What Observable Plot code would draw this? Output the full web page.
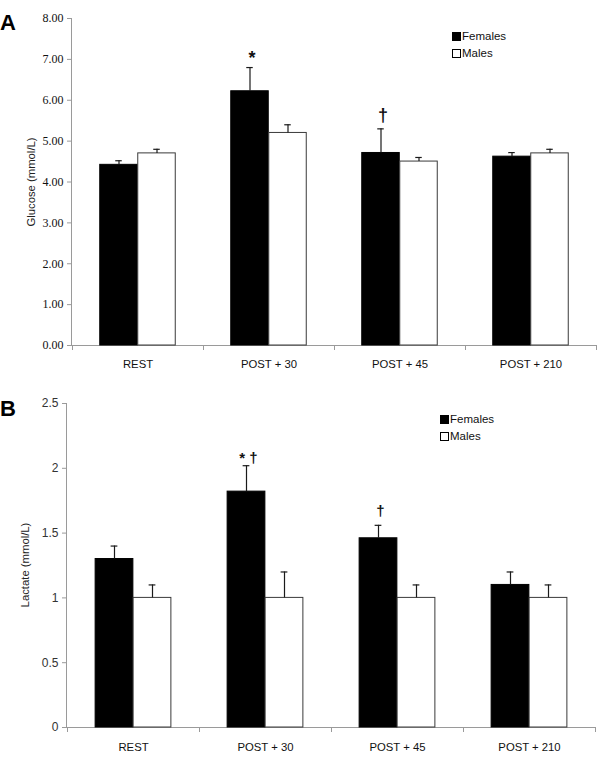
<!DOCTYPE html>
<html>
<head>
<meta charset="utf-8">
<script src="https://cdn.jsdelivr.net/npm/d3@7"></script>
<script src="https://cdn.jsdelivr.net/npm/@observablehq/plot@0.6"></script>
<style>
  html, body { margin: 0; padding: 0; background: #fff; }
  #wrap { position: relative; width: 600px; height: 773px; background: #fff; font-family: "Liberation Sans", Arial, sans-serif; }
  .panel { position: absolute; left: 0; }
  .letter { position: absolute; font-weight: bold; font-size: 22px; font-family: "Liberation Sans", Arial, sans-serif; color: #000; line-height: 1; }
  .legend { position: absolute; font-size: 11.5px; color: #111; line-height: 1; }
  .legend .row { position: relative; height: 16.5px; white-space: nowrap; }
  .legend .sw { position: absolute; left: 0; top: 0; width: 7px; height: 7px; border: 1px solid #000; box-sizing: content-box; }
  .legend .lab { position: absolute; left: 10px; top: -1px; }
  .ylab { position: absolute; width: 200px; height: 14px; line-height: 14px; text-align: center; font-size: 11.3px; color: #222; transform: translate(-50%, -50%) rotate(-90deg); white-space: nowrap; }
</style>
</head>
<body>
<div id="wrap">
  <div class="panel" id="A" style="top:0px"></div>
  <div class="panel" id="B" style="top:380px"></div>
  <div class="letter" style="left:0px; top:12px;">A</div>
  <div class="letter" style="left:0px; top:398px;">B</div>
  <div class="ylab" id="ylabA" style="left:31px; top:182px;"></div>
  <div class="ylab" id="ylabB" style="left:25px; top:565px;"></div>
  <div class="legend" style="left:452px; top:32px;">
    <div class="row"><span class="sw" style="background:#000"></span><span class="lab">Females</span></div>
    <div class="row"><span class="sw" style="background:#fff"></span><span class="lab">Males</span></div>
  </div>
  <div class="legend" style="left:440px; top:415px;">
    <div class="row"><span class="sw" style="background:#000"></span><span class="lab">Females</span></div>
    <div class="row"><span class="sw" style="background:#fff"></span><span class="lab">Males</span></div>
  </div>
</div>
<script>
// ---------------- data ----------------
const categories = ["REST", "POST + 30", "POST + 45", "POST + 210"];
const groups = ["Females", "Males"];

const glucoseFemales    = [4.42, 6.22, 4.71, 4.62];
const glucoseFemalesErr = [0.10, 0.58, 0.59, 0.10];
const glucoseMales      = [4.70, 5.20, 4.50, 4.70];
const glucoseMalesErr   = [0.10, 0.20, 0.10, 0.10];
const glucoseTicks      = [0, 1, 2, 3, 4, 5, 6, 7, 8];
const glucoseLabel      = "Glucose (mmol/L)";
const glucoseNotes      = [{time: "POST + 30", text: "*"}, {time: "POST + 45", text: "†"}];

const lactateFemales    = [1.30, 1.82, 1.46, 1.10];
const lactateFemalesErr = [0.10, 0.20, 0.10, 0.10];
const lactateMales      = [1.00, 1.00, 1.00, 1.00];
const lactateMalesErr   = [0.10, 0.20, 0.10, 0.10];
const lactateTicks      = [0, 0.5, 1, 1.5, 2, 2.5];
const lactateLabel      = "Lactate (mmol/L)";
const lactateNotes      = [{time: "POST + 30", text: "* †"}, {time: "POST + 45", text: "†"}];

// ---------------- helpers ----------------
function rows(vals, errs) {
  return categories.map((c, i) => ({time: c, value: vals[i], hi: vals[i] + errs[i]}));
}

function axisFrame(color) {
  return (index, scales, values, dims) => {
    const x = scales.x, y = scales.y;
    const left = dims.marginLeft, right = dims.width - dims.marginRight;
    const bottom = y(0);
    const top = dims.marginTop;
    const bw = x.bandwidth ? x.bandwidth() : (right - left) / categories.length;
    const g = d3.create("svg:g").attr("stroke", color).attr("fill", "none").attr("stroke-width", 1);
    g.append("line").attr("x1", left + 0.5).attr("x2", left + 0.5).attr("y1", top).attr("y2", bottom);
    g.append("line").attr("x1", left).attr("x2", right).attr("y1", bottom + 0.5).attr("y2", bottom + 0.5);
    const edges = categories.map(c => x(c)).concat([x(categories[categories.length - 1]) + bw]);
    for (const e of edges) {
      g.append("line").attr("x1", e + 0.5).attr("x2", e + 0.5).attr("y1", bottom).attr("y2", bottom + 5);
    }
    return g.node();
  };
}

function panel({el, fem, male, ticks, fmt, notes, noteDy, noteSize, height, mt, mb, ml, mr, xPad, tickFont, tickFill}) {
  const width = 600;
  const bw = (width - ml - mr) / categories.length;
  const half = bw / 2;
  const W = 38;      // bar width in px
  const cap = 7;     // error cap width
  const ink = "#1a1a1a";
  const barSet = (data, side, fill, stroke) => [
    Plot.barY(data, {
      x: "time", y: "value", fill, stroke, strokeWidth: 1,
      insetLeft: side < 0 ? half - W : half,
      insetRight: side < 0 ? half : half - W
    }),
    Plot.ruleX(data, {x: "time", y1: "value", y2: "hi", dx: side * W / 2, stroke: ink, strokeWidth: 1.2}),
    Plot.tickY(data, {
      x: "time", y: "hi", stroke: ink, strokeWidth: 1.2,
      insetLeft: half + side * W / 2 - cap / 2,
      insetRight: half - side * W / 2 - cap / 2
    })
  ];
  const noteRows = notes.map(n => ({...n, hi: fem.find(r => r.time === n.time).hi}));
  const noteMarks = noteRows.map((n, i) =>
    Plot.text([n], {x: "time", y: "hi", text: "text", dx: -W / 2 + 2, dy: noteDy[i],
      fontSize: noteSize, fontWeight: "bold", fill: "#111", lineAnchor: "bottom"}));
  const chart = Plot.plot({
    width, height,
    marginTop: mt, marginBottom: mb, marginLeft: ml, marginRight: mr,
    style: {fontFamily: "'Liberation Sans', Arial, sans-serif", fontSize: "11.3px", color: "#111", background: "transparent", overflow: "visible"},
    x: {domain: categories, padding: 0, tickSize: 0, tickPadding: xPad, label: null},
    y: {domain: [ticks[0], ticks[ticks.length - 1]], ticks, tickFormat: fmt, tickSize: 4, tickPadding: 4, label: null},
    marks: [
      axisFrame("#9a9a9a"),
      ...barSet(fem, -1, "#000", "#000"),
      ...barSet(male, 1, "#fff", "#3a3a3a"),
      ...noteMarks
    ]
  });
  // style the y tick labels and tick marks
  const sel = d3.select(chart);
  sel.selectAll('g[aria-label="y-axis tick label"] text, g[aria-label="y-axis tick label"]')
    .attr("font-family", tickFont).attr("font-size", 12).attr("fill", tickFill);
  sel.selectAll('g[aria-label="y-axis tick"]').attr("stroke", "#9a9a9a");
  sel.selectAll('g[aria-label="y-axis tick"] path').attr("stroke", "#9a9a9a");
  document.getElementById(el).appendChild(chart);
}

document.getElementById("ylabA").textContent = glucoseLabel;
document.getElementById("ylabB").textContent = lactateLabel;

panel({
  el: "A",
  fem: rows(glucoseFemales, glucoseFemalesErr),
  male: rows(glucoseMales, glucoseMalesErr),
  ticks: glucoseTicks, fmt: d => d.toFixed(2),
  notes: glucoseNotes, noteDy: [-4, -8], noteSize: 18,
  height: 375, mt: 18, mb: 30, ml: 71, mr: 3, xPad: 14,
  tickFont: "'Liberation Serif', 'Times New Roman', serif", tickFill: "#111"
});

panel({
  el: "B",
  fem: rows(lactateFemales, lactateFemalesErr),
  male: rows(lactateMales, lactateMalesErr),
  ticks: lactateTicks, fmt: d => String(d),
  notes: lactateNotes, noteDy: [-3, -9], noteSize: 15,
  height: 393, mt: 23, mb: 46, ml: 66, mr: 5, xPad: 15,
  tickFont: "'Liberation Sans', Arial, sans-serif", tickFill: "#333"
});
</script>
</body>
</html>
